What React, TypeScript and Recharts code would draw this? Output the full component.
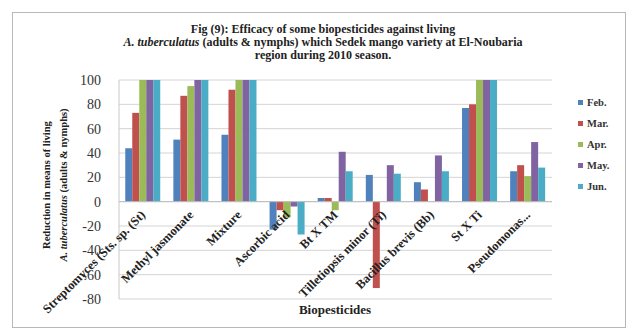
import { BarChart, Bar, XAxis, YAxis, CartesianGrid, ReferenceLine, Legend } from "recharts";

const treatments = [
  "Streptomyces (Sts. sp. (St)",
  "Methyl jasmonate",
  "Mixture",
  "Ascorbic acid",
  "Bt X TM",
  "Tilletiopsis minor (Ti)",
  "Bacillus brevis (Bb)",
  "St X Ti",
  "Pseudomonas...",
];

const feb = [44, 51, 55, -23, 3, 22, 16, 77, 25];
const mar = [73, 87, 92, -7, 3, -71, 10, 80, 30];
const apr = [100, 95, 100, -13, -7, 0, 0, 100, 21];
const may = [100, 100, 100, -4, 41, 30, 38, 100, 49];
const jun = [100, 100, 100, -27, 25, 23, 25, 100, 28];

const months = ["Feb.", "Mar.", "Apr.", "May.", "Jun."];
const COLORS = ["#4F81BD", "#C0504D", "#9BBB59", "#8064A2", "#4BACC6"];
const yTicks = [-80, -60, -40, -20, 0, 20, 40, 60, 80, 100];

const data = treatments.map((name, i) => ({
  name,
  feb: feb[i],
  mar: mar[i],
  apr: apr[i],
  may: may[i],
  jun: jun[i],
}));
const keys = ["feb", "mar", "apr", "may", "jun"];

// plot box
const W = 629;
const H = 334;
const TOP = 80;
const BOTTOM = 35;
const LEFT = 119;
const RIGHT = 77;
const Y_MIN = -80;
const Y_MAX = 100;
const ZERO_Y = TOP + ((H - TOP - BOTTOM) * Y_MAX) / (Y_MAX - Y_MIN);
const X_AXIS_H = 30;

const serif = "'Liberation Serif', 'DejaVu Serif', serif";

// category labels hang from the zero line, slanted
function CategoryTick(props: any) {
  const { x, payload } = props;
  const ax = x + 3;
  const ay = ZERO_Y + 14;
  return (
    <text
      x={ax}
      y={ay}
      transform={`rotate(-45, ${ax}, ${ay})`}
      textAnchor="end"
      fontFamily={serif}
      fontWeight="bold"
      fontSize={12.5}
      fill="#222"
    >
      {payload.value}
    </text>
  );
}

function MonthLegend() {
  return (
    <div style={{ fontFamily: serif, fontSize: 10.5, fontWeight: "bold", color: "#333" }}>
      {months.map((m, i) => (
        <div key={m} style={{ display: "flex", alignItems: "center", height: 21 }}>
          <span
            style={{
              display: "inline-block",
              width: 5,
              height: 5,
              background: COLORS[i],
              marginRight: 4,
            }}
          />
          {m}
        </div>
      ))}
    </div>
  );
}

export default function App() {
  return (
    <div
      style={{
        position: "absolute",
        left: 0,
        top: 0,
        width: W,
        height: H,
        background: "#fff",
        overflow: "hidden",
      }}
    >
      <div
        style={{
          position: "absolute",
          left: 12,
          top: 12,
          width: 612,
          height: 314,
          border: "1px solid #b8b8b8",
        }}
      />
      <div
        style={{
          position: "absolute",
          left: 0,
          top: 23,
          width: 646,
          textAlign: "center",
          fontFamily: serif,
          fontWeight: "bold",
          fontSize: 12,
          lineHeight: "13px",
          color: "#222",
        }}
      >
        <div>Fig (9): Efficacy of some biopesticides against living</div>
        <div>
          <i>A. tuberculatus</i> (adults &amp; nymphs) which Sedek mango variety at El-Noubaria
        </div>
        <div>region during 2010 season.</div>
      </div>
      <div
        style={{
          position: "absolute",
          left: 54 - 90,
          top: 185 - 16,
          width: 180,
          height: 32,
          transform: "rotate(-90deg)",
          textAlign: "center",
          fontFamily: serif,
          fontWeight: "bold",
          fontSize: 10.5,
          lineHeight: "17px",
          color: "#222",
        }}
      >
        <div>Reduction in means of living</div>
        <div>
          <i>A. tuberculatus</i> (adults &amp; nymphs)
        </div>
      </div>
      <div
        style={{
          position: "absolute",
          left: 275,
          top: 302,
          width: 120,
          textAlign: "center",
          fontFamily: serif,
          fontWeight: "bold",
          fontSize: 13,
          color: "#222",
        }}
      >
        Biopesticides
      </div>
      <BarChart
        width={W}
        height={H}
        data={data}
        margin={{ top: TOP, right: RIGHT, bottom: BOTTOM - X_AXIS_H, left: LEFT - 35 }}
        barCategoryGap="13%"
        barGap={0}
        style={{ position: "absolute", left: 0, top: 0 }}
      >
        <CartesianGrid vertical={false} stroke="#d4d4d4" />
        <XAxis
          dataKey="name"
          height={X_AXIS_H}
          axisLine={false}
          tickLine={false}
          interval={0}
          tick={<CategoryTick />}
        />
        <YAxis
          width={35}
          domain={[Y_MIN, Y_MAX]}
          ticks={yTicks}
          interval={0}
          axisLine={{ stroke: "#c8c8c8" }}
          tickLine={false}
          tick={{ fontFamily: serif, fontSize: 14, fill: "#333" }}
          tickMargin={12}
        />
        <ReferenceLine y={0} stroke="#bdbdbd" />
        {keys.map((k, i) => (
          <Bar key={k} dataKey={k} name={months[i]} fill={COLORS[i]} isAnimationActive={false} />
        ))}
        {/* vertical + centered keeps the plot from shrinking; placed by wrapperStyle */}
        <Legend
          layout="vertical"
          align="center"
          verticalAlign="middle"
          content={<MonthLegend />}
          wrapperStyle={{ left: 578, top: 92, width: 45 }}
        />
      </BarChart>
    </div>
  );
}
